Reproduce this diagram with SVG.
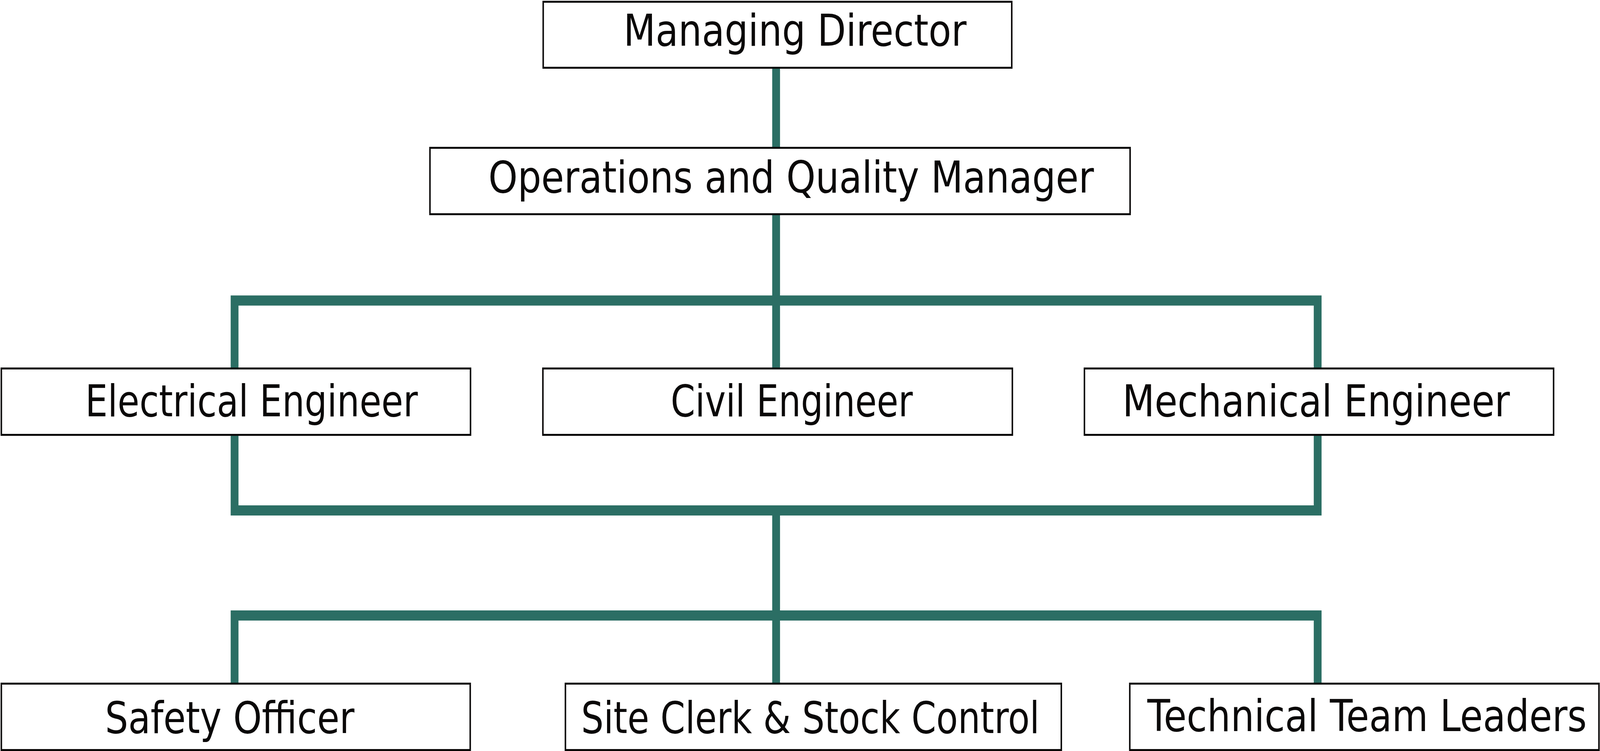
<svg xmlns="http://www.w3.org/2000/svg" width="5327" height="1923" viewBox="0 0 5327 1923" preserveAspectRatio="none" style="width:100vw;height:100vh;display:block">
<style>
.box{fill:#fff;stroke:#0a0808;stroke-width:5}
.lbl{font-family:"DejaVu Sans","Liberation Sans",sans-serif;font-size:112px;fill:#0a0808}
.conn{fill:none;stroke:#2b6e64;stroke-width:26;stroke-linejoin:miter;stroke-linecap:butt}
</style>
<rect width="5327" height="1923" fill="#fff"/>
<g id="connectors">
<path class="conn" d="M2584,176 V941"/>
<path class="conn" d="M781,941 V769.5 H4387 V941"/>
<path class="conn" d="M781,1116 V1307 H4387 V1116"/>
<path class="conn" d="M2584,1307 V1748"/>
<path class="conn" d="M781,1748 V1576 H4387 V1748"/>
</g>
<g id="managing-director">
<rect class="box" x="1808.5" y="4.5" width="1560" height="169"/>
<text class="lbl" x="2076" y="117" textLength="1142" lengthAdjust="spacingAndGlyphs">Managing Director</text>
</g>
<g id="operations-quality-manager">
<rect class="box" x="1431.5" y="378.5" width="2331" height="170"/>
<text class="lbl" x="1626" y="493" textLength="2016" lengthAdjust="spacingAndGlyphs">Operations and Quality Manager</text>
</g>
<g id="electrical-engineer">
<rect class="box" x="4.5" y="943.5" width="1562" height="170"/>
<text class="lbl" x="284" y="1066" textLength="1107" lengthAdjust="spacingAndGlyphs">Electrical Engineer</text>
</g>
<g id="civil-engineer">
<rect class="box" x="1807.5" y="943.5" width="1563" height="170"/>
<text class="lbl" x="2233" y="1066" textLength="806" lengthAdjust="spacingAndGlyphs">Civil Engineer</text>
</g>
<g id="mechanical-engineer">
<rect class="box" x="3610.5" y="943.5" width="1562" height="170"/>
<text class="lbl" x="3737" y="1066" textLength="1290" lengthAdjust="spacingAndGlyphs">Mechanical Engineer</text>
</g>
<g id="safety-officer">
<rect class="box" x="4.5" y="1750.5" width="1561" height="170"/>
<text class="lbl" x="350" y="1877" textLength="830" lengthAdjust="spacingAndGlyphs">Safety Officer</text>
</g>
<g id="site-clerk-stock-control">
<rect class="box" x="1882.5" y="1750.5" width="1651" height="170"/>
<text class="lbl" x="1935" y="1877" textLength="1526" lengthAdjust="spacingAndGlyphs">Site Clerk &amp; Stock Control</text>
</g>
<g id="technical-team-leaders">
<rect class="box" x="3761.5" y="1750.5" width="1562" height="170"/>
<text class="lbl" x="3820" y="1872" textLength="1463" lengthAdjust="spacingAndGlyphs">Technical Team Leaders</text>
</g>
</svg>
